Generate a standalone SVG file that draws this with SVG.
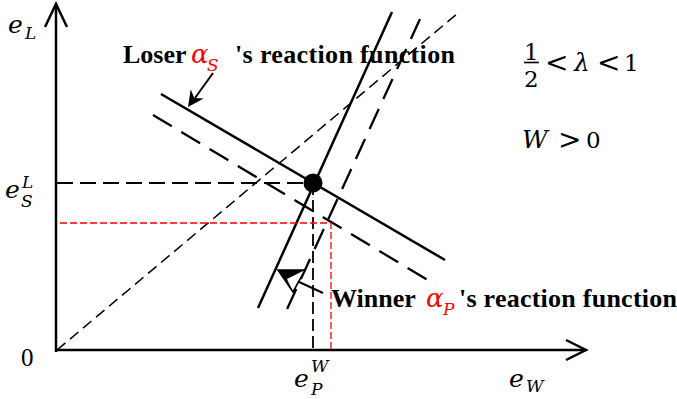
<svg xmlns="http://www.w3.org/2000/svg" width="677" height="399" viewBox="0 0 677 399">
<style>
.ax{stroke:#000;stroke-width:2.5;fill:none}
.sol{stroke:#000;stroke-width:2.5;fill:none}
.d45{stroke:#000;stroke-width:1.5;stroke-dasharray:11 6;fill:none}
.dl{stroke:#000;stroke-width:2.3;stroke-dasharray:22 11;fill:none}
.dg{stroke:#000;stroke-width:2;stroke-dasharray:16 7;fill:none}
.dv{stroke:#000;stroke-width:1.8;stroke-dasharray:12 5;fill:none}
.dr{stroke:#ff0000;stroke-width:1.3;stroke-dasharray:7 3;fill:none}
.m{font-family:"DejaVu Serif","Liberation Serif",serif;font-style:italic;font-size:25px;fill:#000}
.ms{font-family:"DejaVu Serif","Liberation Serif",serif;font-style:italic;font-size:17px;fill:#000}
.n{font-family:"DejaVu Serif","Liberation Serif",serif;font-size:23px;fill:#000}
.r{font-family:"DejaVu Serif","Liberation Serif",serif;font-size:28px;fill:#000}
.z{font-family:"Liberation Serif","Times New Roman",serif;font-size:25px;fill:#000}
.b{font-family:"Liberation Serif","Times New Roman",serif;font-weight:bold;font-size:26px;fill:#000}
.ra{font-family:"DejaVu Serif","Liberation Serif",serif;font-style:italic;font-size:26px;fill:#ff0000}
.rs{font-family:"DejaVu Serif","Liberation Serif",serif;font-style:italic;font-size:17px;fill:#ff0000}
</style>
<g id="axes">
<line class="ax" x1="56" y1="352" x2="56" y2="4"/>
<polyline class="ax" points="45,27 56,4 67,27"/>
<line class="ax" x1="55" y1="350" x2="586" y2="350"/>
<polyline class="ax" points="566,340 586,350 566,360"/>
</g>
<g id="connectors">
<line class="d45" x1="57" y1="350" x2="458" y2="13"/>
<line class="sol" x1="161" y1="94" x2="445" y2="260"/>
<line class="dl" x1="153" y1="115" x2="436" y2="285"/>
<line class="sol" x1="392" y1="12" x2="258" y2="308"/>
<line class="dl" x1="420" y1="19" x2="283" y2="318"/>
<line class="dg" x1="57" y1="183" x2="313" y2="183"/>
<line class="dv" x1="313" y1="183" x2="313" y2="350"/>
<polyline class="dr" points="60,223 331,223 331,350"/>
<line stroke="#000" stroke-width="2" x1="213" y1="73" x2="195" y2="98"/>
<polygon fill="#000" points="188,107 203.7,98.5 194.3,98 190.7,89.3"/>
<line stroke="#000" stroke-width="2" x1="323" y1="293" x2="297" y2="281"/>
<polygon fill="#fff" stroke="#000" stroke-width="1.6" points="278,270 305,270 293,292"/>
<polygon fill="#000" points="278,270 305,270 287,279 293,292"/>
</g>
<g id="equilibrium">
<circle cx="313" cy="183" r="9.5" fill="#000"/>
</g>
<g id="axis-labels">
<text class="m" x="8" y="33">e</text><text class="ms" x="25" y="39">L</text>
<text class="m" x="5" y="198">e</text><text class="ms" x="22" y="188">L</text><text class="ms" x="21" y="207">S</text>
<text class="m" x="294" y="387">e</text><text class="ms" x="311" y="372">W</text><text class="ms" x="311" y="395">P</text>
<text class="m" x="509" y="387">e</text><text class="ms" x="526" y="392">W</text>
<text class="z" x="21" y="366">0</text>
</g>
<g id="loser-label">
<text class="b" x="123" y="63">Loser</text>
<text class="ra" x="191" y="63">α</text><text class="rs" x="207" y="71">S</text>
<text class="b" x="235" y="63" textLength="220">'s reaction function</text>
</g>
<g id="winner-label">
<text class="b" x="331" y="307">Winner</text>
<text class="ra" x="426" y="307">α</text><text class="rs" x="443" y="315">P</text>
<text class="b" x="459" y="307" textLength="218">'s reaction function</text>
</g>
<g id="conditions">
<text class="n" x="524" y="60">1</text>
<line stroke="#000" stroke-width="1.6" x1="524" y1="62.5" x2="539" y2="62.5"/>
<text class="n" x="524" y="87">2</text>
<text class="r" x="545" y="72">&lt;</text>
<text class="m" x="574" y="71">λ</text>
<text class="r" x="597" y="72">&lt;</text>
<text class="n" x="624" y="71">1</text>
<text class="m" x="522" y="148">W</text>
<text class="r" x="558" y="149">&gt;</text>
<text class="n" x="586" y="148">0</text>
</g>
</svg>
